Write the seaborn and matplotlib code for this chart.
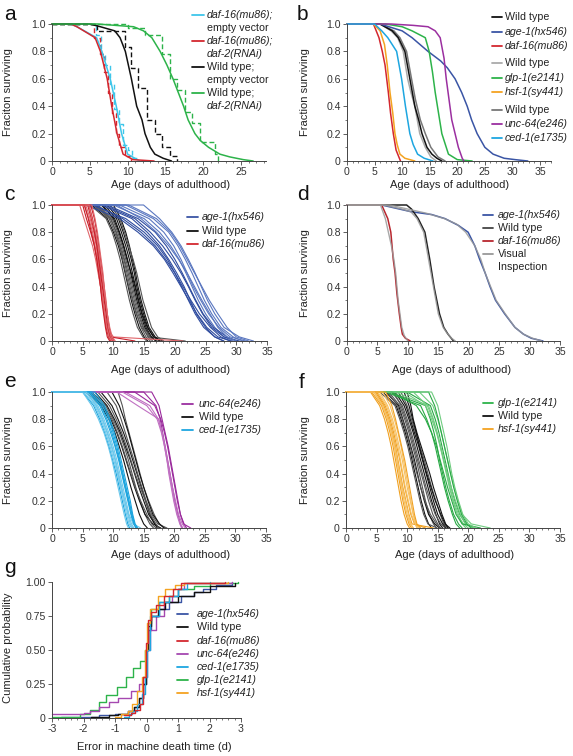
import matplotlib
matplotlib.use("Agg")
import matplotlib.pyplot as plt
from matplotlib.lines import Line2D
from matplotlib.ticker import MultipleLocator, FixedLocator, FixedFormatter
import pandas as pd
import seaborn as sns

# ---------------- data ----------------
# panel a : smooth (machine) curves
A_CYAN_AGE = [0, 2.5, 3.3, 5.9, 6.6, 7.7, 8.5, 9.2, 10.0, 11.6]
A_CYAN_SURV = [1, 1, .98, .9, .8, .6, .4, .2, .05, 0]
A_RED_AGE = [0, 2.5, 3.3, 5.7, 6.4, 7.3, 7.9, 8.6, 9.4, 10.7, 13.5]
A_RED_SURV = [1, 1, .98, .9, .8, .6, .4, .2, .05, .01, 0]
A_BLACK_AGE = [0, 5.0, 6.4, 8.3, 9.0, 9.7, 10.5, 11.2, 11.9, 12.3, 13.0, 13.6, 14.7, 15.8]
A_BLACK_SURV = [1, 1, .98, .95, .9, .8, .6, .4, .3, .2, .1, .05, .02, 0]
A_GREEN_AGE = [0, 6.0, 10.8, 12.1, 13.2, 14.3, 15.2, 16.0, 16.7, 17.4, 18.0, 18.9, 19.6, 20.7, 22.2, 23.5, 25.3, 26.6]
A_GREEN_SURV = [1, 1, .98, .95, .9, .8, .7, .6, .5, .4, .3, .2, .15, .1, .05, .03, .01, 0]
# panel a : stepped (manual) curves
A_CYAN_DASH_AGE = [0, 5.8, 6.5, 7.0, 7.7, 8.2, 8.8, 9.4, 10.0, 10.6, 11.3]
A_CYAN_DASH_SURV = [1, .92, .78, .7, .56, .38, .27, .12, .08, .02, 0]
A_RED_DASH_AGE = [0, 5.5, 6.3, 6.9, 7.4, 7.9, 8.4, 8.9, 9.6, 10.5]
A_RED_DASH_SURV = [1, .9, .78, .65, .5, .35, .2, .1, .04, 0]
A_BLACK_DASH_AGE = [0, 5.9, 9.7, 10.5, 11.4, 12.5, 13.6, 14.6, 15.6, 16.5]
A_BLACK_DASH_SURV = [1, .95, .83, .68, .53, .3, .2, .1, .04, 0]
A_GREEN_DASH_AGE = [0, 10.0, 12.3, 14.5, 15.6, 16.5, 17.6, 18.5, 19.6, 21.6, 21.9]
A_GREEN_DASH_SURV = [1, .97, .92, .78, .6, .52, .36, .28, .14, .05, 0]

# panel b
B_WT1_AGE = [0, 6, 8.2, 9.3, 10.5, 11.4, 12.3, 13.0, 13.6, 14.5, 15.4, 16.3, 17.2]
B_WT1_SURV = [1, 1, .95, .9, .8, .6, .4, .3, .2, .1, .05, .02, 0]
B_AGE1_AGE = [0, 6, 10, 11.8, 14.7, 17, 18.2, 19.6, 20.8, 21.8, 22.6, 23.6, 25, 26.5, 28.5, 30.5, 32.8]
B_AGE1_SURV = [1, 1, .95, .9, .8, .73, .68, .6, .5, .4, .3, .2, .1, .05, .02, .01, 0]
B_DAF16_AGE = [0, 4.8, 5.8, 6.4, 6.9, 7.5, 7.9, 8.4, 8.9, 9.7]
B_DAF16_SURV = [1, 1, .9, .8, .7, .5, .35, .2, .08, 0]
B_WT2_AGE = [0, 6, 8, 9.2, 10.2, 11.0, 11.6, 12.3, 13.2, 14.2, 15.2, 16.2]
B_WT2_SURV = [1, 1, .95, .9, .8, .6, .5, .4, .2, .1, .03, 0]
B_GLP1_AGE = [0, 7, 10, 11.8, 14.2, 14.9, 15.5, 16.0, 16.6, 17.2, 18.4, 20, 22.7]
B_GLP1_SURV = [1, 1, .98, .95, .9, .8, .65, .5, .35, .2, .05, .01, 0]
B_HSF1_AGE = [0, 4.8, 6.0, 6.8, 7.3, 7.8, 8.3, 8.7, 9.1, 9.6, 10.5, 12.3]
B_HSF1_SURV = [1, 1, .95, .85, .7, .5, .35, .2, .12, .05, .02, 0]
B_WT3_AGE = [0, 6, 8.5, 9.6, 10.8, 11.7, 12.4, 13.3, 14.2, 15.2, 16.5, 17.8]
B_WT3_SURV = [1, 1, .95, .9, .8, .6, .45, .3, .2, .1, .03, 0]
B_UNC64_AGE = [0, 8, 12, 14.7, 16.0, 16.9, 17.6, 18.0, 18.5, 19.0, 19.6, 20.2, 20.9, 21.2]
B_UNC64_SURV = [1, 1, .99, .98, .95, .9, .75, .6, .45, .3, .2, .1, .02, 0]
B_CED1_AGE = [0, 5, 6.3, 7.4, 9.0, 9.9, 10.6, 11.4, 12.0, 12.8, 14.0, 15.6]
B_CED1_SURV = [1, 1, .95, .9, .8, .6, .4, .2, .12, .05, .02, 0]

# panel d
D_AGE1_AGE = [0, 5.7, 10.6, 13.9, 16.1, 18.3, 19.9, 21.0, 21.8, 22.7, 23.5, 24.4, 25.9, 27.6, 29.0, 30.3, 32.2]
D_AGE1_SURV = [1, 1, .95, .93, .9, .85, .8, .7, .6, .5, .4, .3, .2, .1, .05, .02, 0]
D_WT_AGE = [0, 9.8, 10.6, 11.7, 12.8, 13.6, 14.3, 15.2, 15.9, 16.6, 17.5]
D_WT_SURV = [1, 1, .97, .9, .8, .6, .4, .2, .1, .05, 0]
D_DAF16_AGE = [0, 5.7, 6.2, 6.7, 7.2, 7.6, 7.9, 8.2, 8.6, 8.9, 9.1, 9.6, 10.4]
D_DAF16_SURV = [1, 1, .95, .9, .8, .6, .5, .35, .2, .1, .05, .02, 0]
D_VIS_AGE1_AGE = [0, 7, 10, 13, 16, 18, 19.5, 21, 22, 22.7, 23.6, 24.5, 26, 27.6, 29, 30.5, 32]
D_VIS_AGE1_SURV = [1, 1, .97, .94, .9, .86, .8, .7, .6, .5, .4, .3, .2, .1, .05, .02, 0]
D_VIS_WT_AGE = [0, 6, 9, 10.5, 11.5, 12.6, 13.4, 14.2, 15.0, 15.8, 16.4, 17.2, 17.8]
D_VIS_WT_SURV = [1, 1, .97, .95, .9, .8, .6, .4, .2, .1, .06, .02, 0]
D_VIS_DAF16_AGE = [0, 5.5, 6.3, 6.8, 7.3, 7.7, 8.0, 8.4, 8.7, 9.0, 9.4, 10.0]
D_VIS_DAF16_SURV = [1, 1, .9, .8, .7, .6, .5, .3, .2, .1, .04, 0]

# replicate panels c, e, f: age at which each replicate reaches each survival level
REP_LEVELS = [1.0, 0.9, 0.8, 0.7, 0.6, 0.5, 0.4, 0.3, 0.2, 0.1, 0.03, 0.0]

C_AGE1_REPS = [
    [8.0, 13.0, 15.5, 17.5, 19.0, 20.3, 21.5, 22.5, 23.5, 25.0, 26.5, 28.0],
    [10.0, 15.0, 17.5, 19.3, 20.7, 21.8, 22.8, 23.8, 25.0, 26.5, 28.0, 29.5],
    [7.0, 11.5, 14.5, 16.8, 18.5, 20.0, 21.3, 22.6, 24.0, 25.8, 27.5, 29.0],
    [12.0, 16.5, 19.0, 20.5, 21.7, 22.8, 23.8, 24.8, 26.0, 27.5, 29.5, 31.0],
    [9.0, 14.0, 16.8, 18.6, 20.0, 21.2, 22.3, 23.4, 24.6, 26.3, 28.5, 30.0],
    [14.9, 17.5, 19.5, 21.0, 22.2, 23.3, 24.3, 25.3, 26.5, 28.0, 30.5, 32.8],
    [6.5, 12.0, 15.0, 17.2, 18.8, 20.0, 21.1, 22.2, 23.3, 24.7, 26.5, 27.9],
    [11.0, 15.8, 18.2, 19.8, 21.0, 22.0, 23.0, 24.2, 25.5, 27.2, 29.0, 31.5],
    [8.5, 13.5, 16.0, 18.0, 19.6, 21.0, 22.2, 23.3, 24.5, 26.0, 28.0, 30.5],
    [10.5, 14.5, 17.0, 19.0, 20.6, 22.0, 23.2, 24.4, 25.7, 27.0, 28.5, 30.0],
    [5.5, 11.0, 14.0, 16.5, 18.3, 19.7, 21.0, 22.3, 23.6, 25.2, 27.0, 29.2],
    [12.5, 17.0, 19.3, 20.8, 22.0, 23.2, 24.4, 25.6, 27.0, 28.5, 30.0, 32.0],
]
C_WT_REPS = [
    [6.5, 9.0, 10.0, 10.8, 11.4, 11.9, 12.4, 12.9, 13.5, 14.2, 15.0, 15.6],
    [7.0, 9.5, 10.5, 11.2, 11.8, 12.4, 12.9, 13.4, 14.0, 14.8, 15.6, 16.4],
    [8.0, 10.2, 11.0, 11.7, 12.3, 12.8, 13.3, 13.8, 14.4, 15.1, 16.0, 17.0],
    [6.2, 8.8, 9.8, 10.5, 11.1, 11.6, 12.1, 12.6, 13.2, 13.9, 14.8, 15.4],
    [9.0, 10.8, 11.6, 12.3, 12.9, 13.4, 13.8, 14.3, 14.9, 15.6, 16.5, 17.6],
    [7.5, 9.8, 10.7, 11.4, 12.0, 12.6, 13.1, 13.6, 14.2, 14.9, 16.0, 21.7],
    [8.5, 10.5, 11.3, 12.0, 12.6, 13.1, 13.6, 14.1, 14.7, 15.5, 16.6, 18.0],
    [6.8, 9.3, 10.2, 11.0, 11.7, 12.2, 12.7, 13.2, 13.8, 14.5, 15.3, 16.0],
    [10.0, 11.2, 12.0, 12.6, 13.1, 13.6, 14.0, 14.5, 15.1, 15.8, 16.8, 17.5],
    [7.2, 9.6, 10.4, 11.0, 11.5, 12.0, 12.5, 13.1, 13.7, 14.6, 15.8, 17.2],
    [8.2, 10.0, 10.9, 11.6, 12.2, 12.9, 13.5, 14.0, 14.6, 15.3, 16.2, 16.9],
    [9.5, 11.0, 11.8, 12.5, 13.2, 13.8, 14.3, 14.8, 15.5, 16.2, 17.2, 18.2],
]
C_DAF16_REPS = [
    [5.0, 5.6, 6.3, 6.9, 7.3, 7.6, 7.9, 8.2, 8.5, 8.8, 9.2, 9.6],
    [5.5, 6.2, 6.8, 7.2, 7.5, 7.8, 8.0, 8.3, 8.6, 9.0, 9.4, 9.8],
    [6.0, 6.6, 7.0, 7.4, 7.7, 8.0, 8.3, 8.6, 8.9, 9.3, 9.7, 10.1],
    [4.5, 5.2, 5.9, 6.6, 7.1, 7.5, 7.9, 8.2, 8.5, 8.9, 10.0, 21.3],
    [6.3, 6.9, 7.3, 7.6, 7.9, 8.2, 8.5, 8.7, 9.0, 9.3, 9.6, 9.9],
    [5.2, 6.0, 6.6, 7.0, 7.4, 7.7, 8.0, 8.3, 8.6, 8.9, 9.3, 9.7],
    [5.8, 6.4, 6.9, 7.3, 7.6, 7.9, 8.2, 8.5, 8.8, 9.1, 9.5, 13.5],
    [6.5, 7.0, 7.4, 7.7, 8.0, 8.3, 8.5, 8.8, 9.0, 9.4, 9.8, 10.3],
    [5.3, 5.9, 6.4, 6.9, 7.3, 7.6, 7.9, 8.1, 8.4, 8.7, 9.0, 9.4],
    [6.0, 6.5, 7.1, 7.5, 7.8, 8.1, 8.4, 8.7, 9.0, 9.2, 9.6, 10.0],
]

E_UNC64_REPS = [
    [15.0, 17.0, 17.7, 18.1, 18.5, 18.9, 19.3, 19.7, 20.1, 20.6, 21.0, 21.3],
    [12.0, 16.0, 17.4, 18.0, 18.5, 18.9, 19.3, 19.7, 20.2, 20.7, 21.3, 21.8],
    [16.3, 17.5, 18.0, 18.5, 19.0, 19.4, 19.8, 20.2, 20.6, 21.0, 21.5, 22.7],
    [10.6, 14.0, 17.5, 18.0, 18.4, 18.8, 19.2, 19.6, 20.0, 20.5, 21.0, 21.4],
    [13.5, 16.8, 17.8, 18.4, 18.9, 19.3, 19.7, 20.1, 20.5, 21.0, 21.6, 22.0],
    [11.5, 15.5, 17.2, 17.9, 18.4, 18.8, 19.1, 19.5, 19.9, 20.4, 20.9, 21.2],
]
E_WT_REPS = [
    [5.5, 8.0, 9.3, 10.3, 11.0, 11.7, 12.3, 12.9, 13.6, 14.3, 15.0, 15.6],
    [6.5, 8.8, 10.0, 11.0, 11.8, 12.5, 13.1, 13.7, 14.4, 15.2, 16.0, 16.6],
    [8.0, 9.8, 10.8, 11.7, 12.5, 13.2, 13.9, 14.6, 15.3, 16.0, 16.8, 17.5],
    [10.8, 11.5, 12.0, 12.6, 13.2, 13.8, 14.4, 15.0, 15.8, 16.7, 17.5, 18.5],
    [7.0, 9.0, 10.2, 11.2, 12.0, 12.8, 13.5, 14.2, 15.0, 15.8, 16.8, 17.2],
    [9.0, 10.5, 11.3, 12.0, 12.7, 13.4, 14.0, 14.7, 15.4, 16.3, 17.3, 18.8],
    [5.8, 8.3, 9.6, 10.6, 11.4, 12.1, 12.8, 13.5, 14.3, 15.2, 16.5, 17.8],
    [7.5, 9.4, 10.5, 11.4, 12.2, 12.9, 13.6, 14.4, 15.3, 16.1, 17.0, 17.5],
    [9.8, 11.0, 11.8, 12.5, 13.1, 13.7, 14.3, 15.0, 15.7, 16.5, 17.6, 18.3],
    [6.2, 8.5, 9.8, 10.7, 11.5, 12.2, 12.9, 13.6, 14.5, 15.5, 16.3, 17.0],
]
E_CED1_REPS = [
    [5.0, 6.8, 7.8, 8.6, 9.3, 9.9, 10.5, 11.0, 11.5, 12.0, 12.4, 12.7],
    [5.5, 7.3, 8.3, 9.1, 9.8, 10.4, 10.9, 11.4, 11.9, 12.4, 12.8, 13.2],
    [6.0, 7.8, 8.8, 9.6, 10.3, 10.9, 11.4, 11.9, 12.4, 12.9, 13.3, 13.9],
    [5.2, 7.0, 8.0, 8.8, 9.5, 10.1, 10.7, 11.2, 11.7, 12.2, 12.6, 13.0],
    [6.5, 8.3, 9.3, 10.0, 10.6, 11.1, 11.6, 12.1, 12.6, 13.1, 13.5, 13.9],
    [5.8, 7.5, 8.5, 9.3, 10.0, 10.6, 11.1, 11.6, 12.1, 12.6, 13.3, 14.5],
    [7.0, 8.6, 9.5, 10.2, 10.8, 11.3, 11.8, 12.3, 12.8, 13.2, 13.6, 14.0],
    [5.0, 6.5, 7.6, 8.5, 9.2, 9.8, 10.3, 10.8, 11.3, 11.8, 12.2, 12.5],
    [6.2, 8.0, 9.0, 9.8, 10.4, 11.0, 11.5, 12.0, 12.5, 13.0, 13.4, 13.7],
    [5.6, 7.2, 8.2, 9.0, 9.7, 10.3, 10.8, 11.3, 11.9, 12.5, 13.0, 13.4],
]

F_GLP1_REPS = [
    [7.0, 13.0, 13.8, 14.4, 14.9, 15.3, 15.8, 16.3, 16.9, 17.6, 18.4, 19.0],
    [8.0, 13.5, 14.3, 14.9, 15.4, 15.9, 16.4, 16.9, 17.5, 18.2, 19.2, 20.0],
    [10.0, 13.8, 14.6, 15.2, 15.7, 16.2, 16.7, 17.2, 17.8, 18.6, 19.6, 20.8],
    [12.0, 14.2, 15.0, 15.6, 16.1, 16.6, 17.1, 17.7, 18.3, 19.0, 20.5, 23.6],
    [6.5, 12.2, 13.2, 14.0, 14.6, 15.1, 15.6, 16.1, 16.7, 17.4, 18.0, 18.6],
    [9.5, 13.0, 14.0, 14.8, 15.4, 16.0, 16.6, 17.2, 17.9, 18.7, 19.5, 21.0],
    [13.5, 14.5, 15.1, 15.6, 16.1, 16.6, 17.1, 17.6, 18.2, 18.9, 19.8, 20.4],
    [11.0, 13.3, 14.2, 14.9, 15.5, 16.0, 16.5, 17.0, 17.6, 18.4, 19.0, 19.6],
    [7.5, 11.5, 13.0, 14.0, 14.8, 15.4, 16.0, 16.6, 17.3, 18.0, 19.0, 22.0],
    [14.0, 15.0, 15.5, 16.0, 16.5, 16.9, 17.3, 17.8, 18.4, 19.1, 20.0, 21.3],
]
F_WT_REPS = [
    [6.0, 8.2, 9.0, 9.7, 10.3, 10.8, 11.3, 11.8, 12.3, 12.9, 13.5, 14.0],
    [7.0, 8.8, 9.6, 10.3, 10.9, 11.5, 12.0, 12.5, 13.0, 13.6, 14.3, 14.8],
    [8.0, 9.5, 10.3, 11.0, 11.6, 12.2, 12.8, 13.4, 14.0, 14.7, 15.3, 15.8],
    [9.0, 10.0, 10.7, 11.4, 12.1, 12.8, 13.4, 14.0, 14.7, 15.4, 16.0, 16.7],
    [6.5, 8.6, 9.3, 10.0, 10.6, 11.2, 11.7, 12.2, 12.8, 13.5, 14.5, 15.3],
    [7.5, 9.2, 10.0, 10.7, 11.3, 11.9, 12.5, 13.1, 13.8, 14.6, 15.5, 16.2],
    [10.0, 10.6, 11.0, 11.6, 12.3, 13.0, 13.7, 14.3, 15.0, 15.7, 16.3, 16.7],
    [5.5, 8.0, 8.8, 9.5, 10.1, 10.6, 11.1, 11.6, 12.1, 12.7, 13.4, 14.9],
    [8.5, 9.8, 10.5, 11.2, 11.9, 12.5, 13.1, 13.7, 14.3, 15.0, 15.8, 16.4],
    [6.8, 8.4, 9.2, 9.9, 10.5, 11.0, 11.6, 12.2, 12.9, 13.8, 14.8, 15.5],
    [9.5, 10.3, 10.9, 11.5, 12.0, 12.6, 13.2, 13.9, 14.6, 15.5, 16.2, 17.0],
    [7.8, 9.0, 9.8, 10.5, 11.1, 11.7, 12.3, 12.9, 13.5, 14.2, 15.0, 15.4],
]
F_HSF1_REPS = [
    [4.0, 5.5, 6.3, 6.9, 7.4, 7.8, 8.2, 8.6, 9.0, 9.5, 10.0, 10.4],
    [4.5, 6.0, 6.8, 7.4, 7.9, 8.3, 8.7, 9.1, 9.5, 10.0, 10.5, 11.0],
    [5.0, 6.4, 7.2, 7.8, 8.3, 8.8, 9.2, 9.6, 10.1, 10.6, 11.2, 13.0],
    [5.5, 6.8, 7.6, 8.2, 8.7, 9.2, 9.6, 10.0, 10.5, 11.0, 11.5, 12.0],
    [4.2, 5.8, 6.6, 7.2, 7.7, 8.1, 8.5, 8.9, 9.3, 9.8, 10.3, 10.7],
    [6.0, 7.2, 7.9, 8.5, 9.0, 9.4, 9.8, 10.2, 10.6, 11.0, 11.4, 11.8],
    [4.8, 6.2, 7.0, 7.6, 8.1, 8.5, 8.9, 9.3, 9.8, 10.3, 10.8, 14.3],
    [5.2, 6.6, 7.4, 8.0, 8.5, 8.9, 9.3, 9.7, 10.2, 10.7, 11.3, 11.6],
    [6.5, 7.5, 8.1, 8.6, 9.1, 9.6, 10.0, 10.4, 10.8, 11.2, 11.6, 12.2],
    [4.6, 6.0, 6.9, 7.5, 8.0, 8.4, 8.8, 9.2, 9.7, 10.2, 10.6, 11.0],
]

# panel g: cumulative distribution of error (days)
G_AGE1_X = [-2.7, -1.5, -1.0, -0.6, -0.4, -0.25, -0.12, -0.03, 0.05, 0.15, 0.4, 0.7, 1.1, 1.5, 1.8, 2.2, 2.7]
G_AGE1_Y = [0.01, 0.02, 0.03, 0.05, 0.08, 0.15, 0.25, 0.5, 0.65, 0.75, 0.8, 0.85, 0.9, 0.93, 0.95, 0.98, 1.0]
G_WT_X = [-1.75, -1.2, -0.9, -0.6, -0.4, -0.25, -0.12, -0.03, 0.05, 0.15, 0.35, 0.6, 1.0, 1.5, 2.0, 2.8]
G_WT_Y = [0.005, 0.02, 0.03, 0.05, 0.08, 0.15, 0.25, 0.5, 0.68, 0.75, 0.8, 0.85, 0.9, 0.93, 0.97, 0.99]
G_DAF16_X = [-0.7, -0.5, -0.35, -0.2, -0.1, -0.03, 0.05, 0.15, 0.3, 0.55, 0.85, 1.1, 2.5]
G_DAF16_Y = [0.02, 0.04, 0.06, 0.1, 0.3, 0.55, 0.72, 0.78, 0.83, 0.9, 0.95, 0.99, 1.0]
G_UNC64_X = [-3.0, -2.0, -1.8, -1.5, -1.2, -0.9, -0.5, -0.25, -0.1, 0.0, 0.1, 0.3, 0.55, 0.8, 1.0, 1.2, 2.7]
G_UNC64_Y = [0.03, 0.04, 0.05, 0.08, 0.12, 0.15, 0.2, 0.25, 0.3, 0.5, 0.65, 0.75, 0.85, 0.9, 0.95, 0.99, 1.0]
G_CED1_X = [-0.7, -0.55, -0.45, -0.3, -0.15, -0.05, 0.02, 0.1, 0.4, 0.7, 1.0, 1.3, 2.0]
G_CED1_Y = [0.01, 0.03, 0.05, 0.1, 0.18, 0.3, 0.5, 0.75, 0.85, 0.9, 0.95, 0.99, 1.0]
G_GLP1_X = [-3.0, -2.1, -1.8, -1.5, -1.3, -0.95, -0.65, -0.42, -0.2, -0.05, 0.05, 0.15, 0.4, 0.7, 1.0, 1.5, 2.0, 2.9]
G_GLP1_Y = [0.01, 0.03, 0.06, 0.12, 0.17, 0.23, 0.3, 0.37, 0.42, 0.5, 0.7, 0.8, 0.85, 0.9, 0.95, 0.97, 0.99, 1.0]
G_HSF1_X = [-1.0, -0.8, -0.6, -0.45, -0.3, -0.15, -0.05, 0.0, 0.1, 0.35, 0.6, 0.9, 1.2, 2.6]
G_HSF1_Y = [0.01, 0.03, 0.05, 0.1, 0.2, 0.3, 0.5, 0.7, 0.8, 0.9, 0.95, 0.98, 0.99, 1.0]

SURV_TICKS = [0, 0.2, 0.4, 0.6, 0.8, 1.0]
SURV_LABELS = ["0", "0.2", "0.4", "0.6", "0.8", "1.0"]
G_YTICKS = [0, 0.25, 0.5, 0.75, 1.0]
G_YLABELS = ["0", "0.25", "0.50", "0.75", "1.00"]
G_XTICKS = [-3, -2, -1, 0, 1, 2, 3]

# ---------------- style ----------------
sns.set_theme(style="ticks")
plt.rcParams['font.family'] = ['Liberation Sans', 'DejaVu Sans']

C_CYAN = '#3ec6ea'
C_CED = '#1ea6e0'
C_RED = '#d3272f'
C_BLACK = '#111111'
C_GREEN = '#2db34a'
C_BLUE = '#3a55a5'
C_PURPLE = '#9b2fa0'
C_ORANGE = '#f4a321'
C_LGRAY = '#aaaaaa'
C_GRAY = '#777777'
C_VIS = '#999999'

W, H = 573, 756
fig = plt.figure(figsize=(W / 100, H / 100), dpi=100)


def add_ax(x0, y0, x1, y1):
    ax = fig.add_axes([x0 / W, 1 - y1 / H, (x1 - x0) / W, (y1 - y0) / H])
    ax.patch.set_alpha(0)
    return ax


def style_ax(ax, xlim, xticks, xminor, yticks=SURV_TICKS, ylabels=SURV_LABELS, yminor=0.1):
    ax.set_xlim(*xlim)
    ax.set_ylim(0, 1.0)
    for s in ['top', 'right']:
        ax.spines[s].set_visible(False)
    for s in ['left', 'bottom']:
        ax.spines[s].set_linewidth(0.7)
        ax.spines[s].set_color('#444444')
    ax.xaxis.set_major_locator(FixedLocator(xticks))
    ax.xaxis.set_major_formatter(FixedFormatter([str(t) for t in xticks]))
    ax.xaxis.set_minor_locator(MultipleLocator(xminor))
    ax.yaxis.set_major_locator(FixedLocator(yticks))
    ax.yaxis.set_major_formatter(FixedFormatter(ylabels))
    if yminor:
        ax.yaxis.set_minor_locator(MultipleLocator(yminor))
    ax.tick_params(which='major', length=3, width=0.6, color='#444444',
                   labelsize=7.6, labelcolor='#333333', pad=1.5)
    ax.tick_params(which='minor', length=1.6, width=0.5, color='#444444')
    ax.set_xlabel('')
    ax.set_ylabel('')


def draw(ax, curves, lw, **kw):
    rows, pal = [], {}
    for key, xs, ys, color in curves:
        for x, y in zip(xs, ys):
            rows.append((key, x, y))
        pal[key] = color
    df = pd.DataFrame(rows, columns=['key', 'x', 'y'])
    sns.lineplot(data=df, x='x', y='y', hue='key', hue_order=list(pal.keys()),
                 palette=pal, estimator=None, sort=False, legend=False,
                 lw=lw, ax=ax, clip_on=False, **kw)


def rep_curves(name, reps, shades):
    out = []
    for i, ages in enumerate(reps):
        out.append((f"{name}{i}", [0] + list(ages), [1.0] + REP_LEVELS, shades[i % len(shades)]))
    return out


def legend(x0, x1, xt, items, fs=7.7):
    for color, text, style, y in items:
        if color is not None:
            fig.add_artist(Line2D([x0 / W, x1 / W], [1 - y / H, 1 - y / H], color=color, lw=1.3))
        fig.text(xt / W, 1 - y / H, text, fontsize=fs, style=style, va='center', ha='left', color='#222222')


def label(x, y, text, rot=0, fs=8):
    fig.text(x / W, 1 - y / H, text, fontsize=fs, rotation=rot, ha='center', va='center', color='#222222')


def panel_letter(x, y, t):
    fig.text(x / W, 1 - y / H, t, fontsize=15, ha='left', va='baseline', color='#111111')


# ---------------- panel a ----------------
ax = add_ax(52, 24, 266, 161)
draw(ax, [('cd', A_CYAN_DASH_AGE, A_CYAN_DASH_SURV, C_CYAN),
          ('rd', A_RED_DASH_AGE, A_RED_DASH_SURV, C_RED),
          ('bd', A_BLACK_DASH_AGE, A_BLACK_DASH_SURV, C_BLACK),
          ('gd', A_GREEN_DASH_AGE, A_GREEN_DASH_SURV, C_GREEN)],
     lw=1.0, drawstyle='steps-post', dashes=(3.5, 2.0))
draw(ax, [('c', A_CYAN_AGE, A_CYAN_SURV, C_CYAN),
          ('r', A_RED_AGE, A_RED_SURV, C_RED),
          ('b', A_BLACK_AGE, A_BLACK_SURV, C_BLACK),
          ('g', A_GREEN_AGE, A_GREEN_SURV, C_GREEN)], lw=1.1)
style_ax(ax, (0, 28.3), [0, 5, 10, 15, 20, 25], 1)
legend(192, 204, 207, [
    (C_CYAN, 'daf-16(mu86);', 'italic', 15), (None, 'empty vector', 'normal', 28),
    (C_RED, 'daf-16(mu86);', 'italic', 41), (None, 'daf-2(RNAi)', 'italic', 54),
    (C_BLACK, 'Wild type;', 'normal', 67), (None, 'empty vector', 'normal', 80),
    (C_GREEN, 'Wild type;', 'normal', 93), (None, 'daf-2(RNAi)', 'italic', 106)])
label(8, 92, 'Fraciton surviving', rot=90)
label(171, 185, 'Age (days of adulthood)')
panel_letter(4, 20, 'a')

# ---------------- panel b ----------------
ax = add_ax(347, 24, 551, 161)
draw(ax, [('wt2', B_WT2_AGE, B_WT2_SURV, C_LGRAY),
          ('wt3', B_WT3_AGE, B_WT3_SURV, C_GRAY),
          ('wt1', B_WT1_AGE, B_WT1_SURV, C_BLACK),
          ('age1', B_AGE1_AGE, B_AGE1_SURV, C_BLUE),
          ('daf16', B_DAF16_AGE, B_DAF16_SURV, C_RED),
          ('glp1', B_GLP1_AGE, B_GLP1_SURV, C_GREEN),
          ('hsf1', B_HSF1_AGE, B_HSF1_SURV, C_ORANGE),
          ('unc64', B_UNC64_AGE, B_UNC64_SURV, C_PURPLE),
          ('ced1', B_CED1_AGE, B_CED1_SURV, C_CED)], lw=1.1)
style_ax(ax, (0, 37), [0, 5, 10, 15, 20, 25, 30, 35], 1)
legend(492, 502, 505, [
    (C_BLACK, 'Wild type', 'normal', 17), (C_BLUE, 'age-1(hx546)', 'italic', 32),
    (C_RED, 'daf-16(mu86)', 'italic', 46),
    (C_LGRAY, 'Wild type', 'normal', 63), (C_GREEN, 'glp-1(e2141)', 'italic', 78),
    (C_ORANGE, 'hsf-1(sy441)', 'italic', 92),
    (C_GRAY, 'Wild type', 'normal', 110), (C_PURPLE, 'unc-64(e246)', 'italic', 124),
    (C_CED, 'ced-1(e1735)', 'italic', 138)])
label(305, 92, 'Fraction surviving', rot=90)
label(450, 185, 'Age (days of adulthood)')
panel_letter(297, 20, 'b')

# ---------------- panel c ----------------
ax = add_ax(52, 205, 267, 341)
curves = (rep_curves('wt', C_WT_REPS, ['#111111', '#555555']) +
          rep_curves('age', C_AGE1_REPS, ['#2f4c9f', '#5a77c0']) +
          rep_curves('daf', C_DAF16_REPS, ['#c81e28', '#e0666b']))
draw(ax, curves, lw=0.8)
style_ax(ax, (0, 35), [0, 5, 10, 15, 20, 25, 30, 35], 1)
legend(187, 198, 202, [
    (C_BLUE, 'age-1(hx546)', 'italic', 217), (C_BLACK, 'Wild type', 'normal', 231),
    (C_RED, 'daf-16(mu86)', 'italic', 244)])
label(8, 273, 'Fraction surviving', rot=90)
label(171, 370, 'Age (days of adulthood)')
panel_letter(4, 200, 'c')

# ---------------- panel d ----------------
ax = add_ax(347, 205, 560, 341)
draw(ax, [('age1', D_AGE1_AGE, D_AGE1_SURV, C_BLUE),
          ('wt', D_WT_AGE, D_WT_SURV, '#222222'),
          ('daf16', D_DAF16_AGE, D_DAF16_SURV, '#b8262e')], lw=1.1)
draw(ax, [('va', D_VIS_AGE1_AGE, D_VIS_AGE1_SURV, C_VIS),
          ('vw', D_VIS_WT_AGE, D_VIS_WT_SURV, C_VIS),
          ('vd', D_VIS_DAF16_AGE, D_VIS_DAF16_SURV, C_VIS)], lw=1.0, alpha=0.85)
style_ax(ax, (0, 35), [0, 5, 10, 15, 20, 25, 30, 35], 1)
legend(483, 493, 498, [
    (C_BLUE, 'age-1(hx546)', 'italic', 215), ('#444444', 'Wild type', 'normal', 228),
    ('#b8262e', 'daf-16(mu86)', 'italic', 241), (C_VIS, 'Visual', 'normal', 254),
    (None, 'Inspection', 'normal', 267)])
label(305, 273, 'Fraction surviving', rot=90)
label(452, 370, 'Age (days of adulthood)')
panel_letter(297, 200, 'd')

# ---------------- panel e ----------------
ax = add_ax(52, 392, 266, 528)
curves = (rep_curves('wt', E_WT_REPS, ['#111111', '#555555']) +
          rep_curves('unc', E_UNC64_REPS, ['#9a2a9c', '#c070c2']) +
          rep_curves('ced', E_CED1_REPS, ['#1aa4de', '#6cc8ec']))
draw(ax, curves, lw=0.8)
style_ax(ax, (0, 35), [0, 5, 10, 15, 20, 25, 30, 35], 1)
legend(182, 193, 199, [
    (C_PURPLE, 'unc-64(e246)', 'italic', 404), (C_BLACK, 'Wild type', 'normal', 417),
    (C_CED, 'ced-1(e1735)', 'italic', 430)])
label(8, 460, 'Fraction surviving', rot=90)
label(171, 555, 'Age (days of adulthood)')
panel_letter(4, 387, 'e')

# ---------------- panel f ----------------
ax = add_ax(346, 392, 560, 528)
curves = (rep_curves('wt', F_WT_REPS, ['#111111', '#555555']) +
          rep_curves('glp', F_GLP1_REPS, ['#28a844', '#70cc80']) +
          rep_curves('hsf', F_HSF1_REPS, ['#f0a020', '#f7c060']))
draw(ax, curves, lw=0.8)
style_ax(ax, (0, 35), [0, 5, 10, 15, 20, 25, 30, 35], 1)
legend(483, 493, 498, [
    (C_GREEN, 'glp-1(e2141)', 'italic', 403), (C_BLACK, 'Wild type', 'normal', 416),
    (C_ORANGE, 'hsf-1(sy441)', 'italic', 429)])
label(305, 460, 'Fraction surviving', rot=90)
label(455, 555, 'Age (days of adulthood)')
panel_letter(299, 388, 'f')

# ---------------- panel g ----------------
ax = add_ax(52, 582, 241, 718)
draw(ax, [('age1', G_AGE1_X, G_AGE1_Y, C_BLUE),
          ('glp1', G_GLP1_X, G_GLP1_Y, C_GREEN),
          ('unc64', G_UNC64_X, G_UNC64_Y, '#a548b0'),
          ('wt', G_WT_X, G_WT_Y, C_BLACK),
          ('ced1', G_CED1_X, G_CED1_Y, C_CED),
          ('hsf1', G_HSF1_X, G_HSF1_Y, C_ORANGE),
          ('daf16', G_DAF16_X, G_DAF16_Y, C_RED)], lw=1.0, drawstyle='steps-post')
style_ax(ax, (-3, 3), G_XTICKS, 0.2, yticks=G_YTICKS, ylabels=G_YLABELS, yminor=None)
legend(177, 188, 197, [
    (C_BLUE, 'age-1(hx546)', 'italic', 614), (C_BLACK, 'Wild type', 'normal', 627),
    (C_RED, 'daf-16(mu86)', 'italic', 641), ('#a548b0', 'unc-64(e246)', 'italic', 654),
    (C_CED, 'ced-1(e1735)', 'italic', 667), (C_GREEN, 'glp-1(e2141)', 'italic', 680),
    (C_ORANGE, 'hsf-1(sy441)', 'italic', 693)])
label(8, 648, 'Cumulative probability', rot=90)
label(154, 747, 'Error in machine death time (d)')
panel_letter(4, 573, 'g')

fig.savefig('out.png', dpi=100)
